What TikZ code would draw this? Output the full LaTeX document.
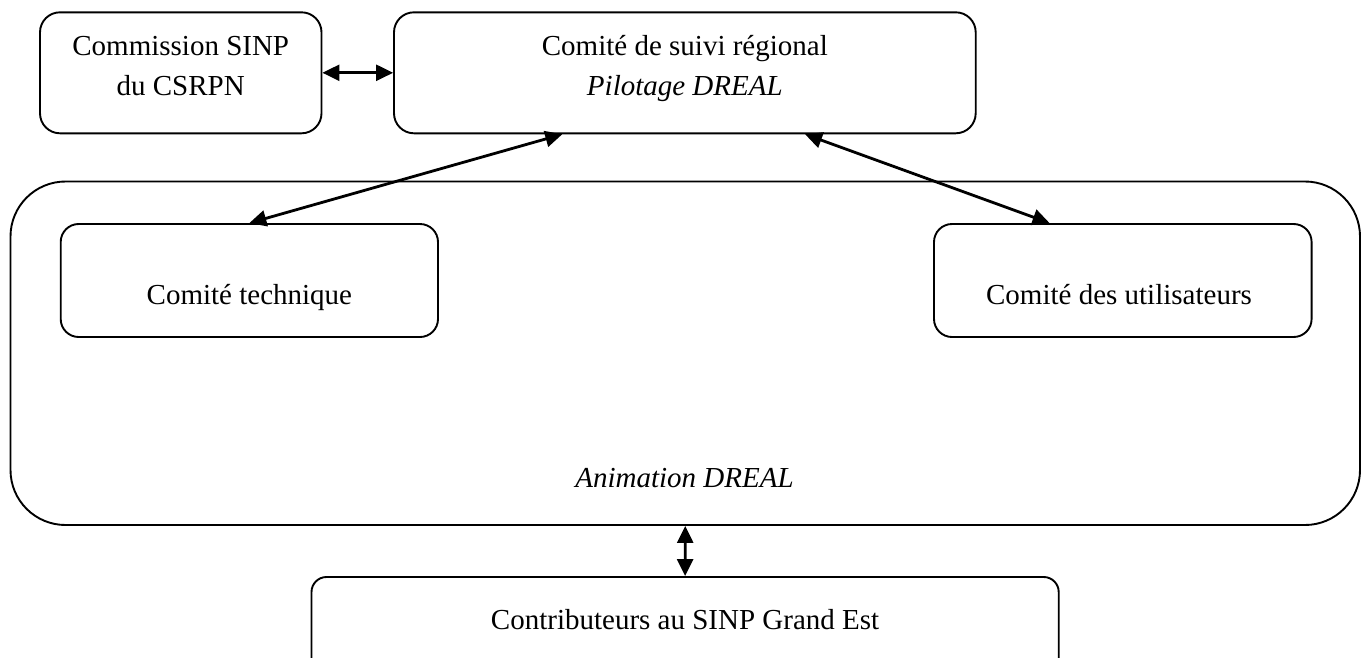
\documentclass[tikz,border=0pt]{standalone}
\usepackage{fontspec}
\setmainfont{Liberation Serif}
\usetikzlibrary{arrows.meta,calc}
\begin{document}
\begin{tikzpicture}[x=1pt,y=-1pt,
  box/.style={draw, line width=1.9pt, inner sep=0pt, rounded corners=#1},
  box/.default=20pt,
  txt/.style={font=\fontsize{29}{40}\selectfont, inner sep=0pt, align=center},
  link/.style={line width=2.8pt, {Triangle[length=17pt,width=16pt]}-{Triangle[length=17pt,width=16pt]}}]
\useasboundingbox (0,0) rectangle (1365,657);
\clip (0,0) rectangle (1365,657);
% boxes
\node[box, minimum width=281.5pt, minimum height=121pt] (csinp) at (180.75,72.8) {};
\node[box, minimum width=581.7pt, minimum height=121pt] (suivi) at (684.85,72.8) {};
\node[box=55pt, minimum width=1349.5pt, minimum height=343.5pt] (anim) at (685.25,353.25) {};
\node[box=18pt, minimum width=377.3pt, minimum height=113pt] (tech) at (249.35,280.5) {};
\node[box=18pt, minimum width=377.6pt, minimum height=113pt] (util) at (1122.8,280.5) {};
\node[box=15pt, minimum width=747.2pt, minimum height=123pt] (contrib) at (685.1,638.5) {};
% texts
\node[txt, anchor=north] (tcsinp) at (180.75,36) {Commission SINP\\du CSRPN};
\node[txt, anchor=north] (tsuivi) at (684.85,35.5) {Comité de suivi régional\\\textit{Pilotage DREAL}};
\node[txt, anchor=base] (tanim) at (684.5,487) {\textit{Animation DREAL}};
\node[txt, anchor=base] (ttech) at (249.35,304) {Comité technique};
\node[txt, anchor=base] (tutil) at (1119,304) {Comité des utilisateurs};
\node[txt, anchor=base] (tcontrib) at (685.1,629) {Contributeurs au SINP Grand Est};
% connectors
\draw[link] (csinp.east) -- (suivi.west);
\draw[link] ($(suivi.south west)!0.29!(suivi.south east)$) -- (tech.north);
\draw[link] ($(suivi.south west)!0.706!(suivi.south east)$) -- ($(util.north west)!0.307!(util.north east)$);
\draw[link] (anim.south) -- (contrib.north);
\end{tikzpicture}
\end{document}
